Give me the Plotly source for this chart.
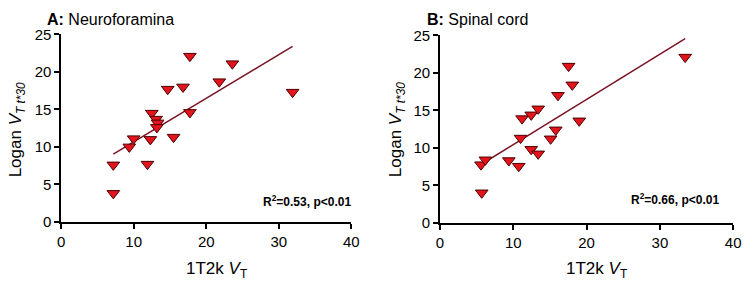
import plotly.graph_objects as go

# Panel A: Neuroforamina
a_x = [7.2, 7.2, 9.4, 10.0, 11.9, 12.3, 12.5, 13.1, 13.3, 13.2, 15.5, 14.7, 16.8, 17.75, 17.75, 21.8, 23.6, 31.9]
a_y = [7.6, 3.8, 10.0, 11.1, 7.7, 11.0, 14.5, 13.7, 13.2, 12.6, 11.3, 17.7, 18.0, 22.1, 14.6, 18.7, 21.1, 17.3]
a_fit = [0.582, 4.84]  # slope, intercept

# Panel B: Spinal cord
b_x = [5.6, 6.2, 5.7, 9.4, 10.75, 11.0, 11.2, 12.45, 12.45, 13.4, 13.4, 15.1, 15.8, 16.1, 17.55, 18.05, 19.0, 33.45]
b_y = [7.75, 8.4, 4.0, 8.3, 7.55, 11.3, 13.9, 9.8, 14.4, 9.2, 15.2, 11.2, 12.4, 17.0, 20.9, 18.4, 13.6, 22.1]
b_fit = [0.603, 4.4]

x_ticks = [0, 10, 20, 30, 40]
y_ticks = [0, 5, 10, 15, 20, 25]

titles = ["<b>A:</b> Neuroforamina", "<b>B:</b> Spinal cord"]
stats = ["R<sup>2</sup>=0.53, p<0.01", "R<sup>2</sup>=0.66, p<0.01"]

FONT = "Liberation Sans, Arial, sans-serif"
W, H = 753, 292


def px(x):
    return x / W


def py(y):
    return 1 - y / H


fig = go.Figure()

panels = [(a_x, a_y, a_fit, "x", "y"), (b_x, b_y, b_fit, "x2", "y2")]
for xs, ys, fit, xa, ya in panels:
    x0, x1 = min(xs), max(xs)
    fig.add_trace(go.Scatter(x=[x0, x1], y=[fit[0] * x0 + fit[1], fit[0] * x1 + fit[1]],
                             mode="lines", line=dict(color="#7a1424", width=1.5),
                             xaxis=xa, yaxis=ya, showlegend=False, hoverinfo="skip"))
    fig.add_trace(go.Scatter(x=xs, y=ys, mode="markers",
                             marker=dict(symbol="triangle-down", size=11, color="#e3141c",
                                         line=dict(color="#4a0000", width=1)),
                             xaxis=xa, yaxis=ya, showlegend=False))

axis_common = dict(showline=True, linecolor="black", linewidth=1.5, ticks="outside",
                   ticklen=5, tickwidth=1.5, tickcolor="black", showgrid=False, zeroline=False,
                   tickfont=dict(family=FONT, size=15, color="black"), fixedrange=True)

fig.update_layout(
    width=W, height=H,
    margin=dict(l=0, r=0, t=0, b=0),
    plot_bgcolor="white", paper_bgcolor="white",
    xaxis=dict(domain=[px(58), px(353)], range=[0, 40], tickvals=x_ticks, anchor="y", **axis_common),
    yaxis=dict(domain=[py(226), py(27)], range=[0, 25], tickvals=y_ticks, anchor="x", **axis_common),
    xaxis2=dict(domain=[px(443), px(741)], range=[0, 40], tickvals=x_ticks, anchor="y2", **axis_common),
    yaxis2=dict(domain=[py(227), py(28)], range=[0, 25], tickvals=y_ticks, anchor="x2", **axis_common),
)

ylab = "Logan <i>V</i><sub><i>T t*30</i></sub>"
xlab = "1T2k <i>V</i><sub>T</sub>"
ann = []
for i, (cx_title, x_ylab, cx_xlab, x_stat, y_stat) in enumerate([
        (42, 13, 216, 308, 204), (428, 399, 602, 682, 202)]):
    ann.append(dict(text=titles[i], x=px(cx_title), y=py(11), xref="paper", yref="paper",
                    xanchor="left", yanchor="middle", showarrow=False,
                    font=dict(family=FONT, size=16, color="black")))
    ann.append(dict(text=ylab, x=px(x_ylab), y=py(128), xref="paper", yref="paper",
                    xanchor="center", yanchor="middle", showarrow=False, textangle=-90,
                    font=dict(family=FONT, size=17, color="black")))
    ann.append(dict(text=xlab, x=px(cx_xlab), y=py(277), xref="paper", yref="paper",
                    xanchor="center", yanchor="middle", showarrow=False,
                    font=dict(family=FONT, size=17, color="black")))
    ann.append(dict(text="<b>" + stats[i] + "</b>", x=px(x_stat), y=py(y_stat),
                    xref="paper", yref="paper", xanchor="center", yanchor="middle",
                    showarrow=False, font=dict(family="Liberation Sans Narrow, Arial Narrow, sans-serif",
                                               size=12, color="black")))
fig.update_layout(annotations=ann)

post = ("document.body.style.margin='0';document.body.style.overflow='hidden';"
        "var gd=document.getElementById('{plot_id}');gd.style.position='absolute';"
        "gd.style.left='0px';gd.style.top='0px';")
fig.write_html("out.html", post_script=post, config={"displayModeBar": False})
